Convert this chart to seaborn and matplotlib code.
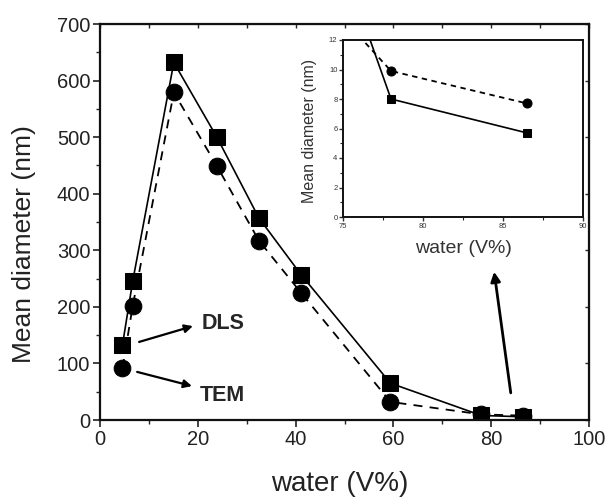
import matplotlib
matplotlib.use("Agg")
import matplotlib.pyplot as plt
from matplotlib.ticker import MultipleLocator
import pandas as pd
import seaborn as sns

# Water content (V%) and mean particle diameters (nm)
water = [4.6, 6.7, 15.1, 23.9, 32.5, 41.2, 59.4, 78.0, 86.5]
dls = [133, 246, 632, 500, 357, 256, 65, 8.0, 5.7]
tem = [92, 202, 579, 449, 317, 224, 32, 9.9, 7.7]

x_ticks = [0, 20, 40, 60, 80, 100]
y_ticks = [0, 100, 200, 300, 400, 500, 600, 700]
inset_x_ticks = [75, 80, 85, 90]
inset_y_ticks = [0, 2, 4, 6, 8, 10, 12]

df = pd.DataFrame({"water": water, "DLS": dls, "TEM": tem})

sns.set_style("ticks")
plt.rcParams["font.family"] = ["Liberation Sans", "DejaVu Sans"]

fig = plt.figure(figsize=(6.05, 5.04), dpi=100)
ax = fig.add_axes([100 / 605, 84 / 504, 489 / 605, 396 / 504])

sns.lineplot(data=df, x="water", y="DLS", ax=ax, color="black", lw=1.2,
             marker="s", markersize=11, markeredgecolor="black",
             estimator=None, sort=False, clip_on=True)
sns.lineplot(data=df, x="water", y="TEM", ax=ax, color="black", lw=1.3,
             linestyle=(0, (5, 4)), marker="o", markersize=12,
             markeredgecolor="black", estimator=None, sort=False, clip_on=True)

ax.set_xlim(0, 100)
ax.set_ylim(0, 700)
ax.set_xticks(x_ticks)
ax.set_yticks(y_ticks)
ax.xaxis.set_minor_locator(MultipleLocator(10))
ax.yaxis.set_minor_locator(MultipleLocator(50))
ax.tick_params(axis="both", which="major", direction="out", length=5,
               width=1.2, labelsize=14.5, pad=2, colors="#222222")
ax.tick_params(axis="both", which="minor", direction="out", length=3, width=1.0)
for s in ax.spines.values():
    s.set_visible(True)
    s.set_linewidth(1.6)
    s.set_color("#111111")

# inward ticks on the top and right frame
top = ax.secondary_xaxis("top")
top.set_xticks(x_ticks)
top.xaxis.set_minor_locator(MultipleLocator(10))
top.tick_params(direction="in", length=3, width=1.0, labeltop=False, which="both")
right = ax.secondary_yaxis("right")
right.set_yticks(y_ticks)
right.tick_params(direction="in", length=3, width=1.0, labelright=False)

ax.set_xlabel("water (V%)", fontsize=20, color="#222222")
ax.xaxis.set_label_coords(0.49, -0.13)
ax.set_ylabel("Mean diameter (nm)", fontsize=19, color="#222222")
ax.yaxis.set_label_coords(-0.13, 0.444)

# series labels with pointers
ax.text(20.8, 171, "DLS", fontsize=15.5, fontweight="bold", va="center", ha="left")
ax.text(20.3, 44, "TEM", fontsize=15.5, fontweight="bold", va="center", ha="left")
arrow = dict(arrowstyle="-|>", color="black", lw=1.6, mutation_scale=12,
             shrinkA=0, shrinkB=0)
ax.annotate("", xy=(19.0, 166), xytext=(8.0, 138), arrowprops=arrow)
ax.annotate("", xy=(18.8, 60), xytext=(7.6, 85), arrowprops=arrow)
ax.annotate("", xy=(80.6, 262), xytext=(84.0, 48),
            arrowprops=dict(arrowstyle="-|>", color="black", lw=2.0,
                            mutation_scale=14, shrinkA=0, shrinkB=0))

# zoomed view of the high-water region
ins = fig.add_axes([343 / 605, 287 / 504, 240 / 605, 177 / 504])
sns.lineplot(data=df, x="water", y="DLS", ax=ins, color="black", lw=1.2,
             marker="s", markersize=6, markeredgecolor="black",
             estimator=None, sort=False)
sns.lineplot(data=df, x="water", y="TEM", ax=ins, color="black", lw=1.3,
             linestyle=(0, (3, 2.5)), marker="o", markersize=6.5,
             markeredgecolor="black", estimator=None, sort=False)
ins.set_xlim(75, 90)
ins.set_ylim(0, 12)
ins.set_xticks(inset_x_ticks)
ins.set_yticks(inset_y_ticks)
ins.xaxis.set_minor_locator(MultipleLocator(2.5))
ins.yaxis.set_minor_locator(MultipleLocator(1))
ins.tick_params(axis="both", which="major", direction="out", length=3,
                width=1.0, labelsize=5.5, pad=1, colors="#333333")
ins.tick_params(axis="both", which="minor", direction="out", length=2, width=0.8)
for s in ins.spines.values():
    s.set_visible(True)
    s.set_linewidth(1.4)
    s.set_color("#111111")
ins.set_xlabel("water (V%)", fontsize=14, color="#333333")
ins.xaxis.set_label_coords(0.5, -0.13)
ins.set_ylabel("Mean diameter (nm)", fontsize=11.5, color="#333333")
ins.yaxis.set_label_coords(-0.11, 0.486)

fig.savefig("out.png", dpi=100)
